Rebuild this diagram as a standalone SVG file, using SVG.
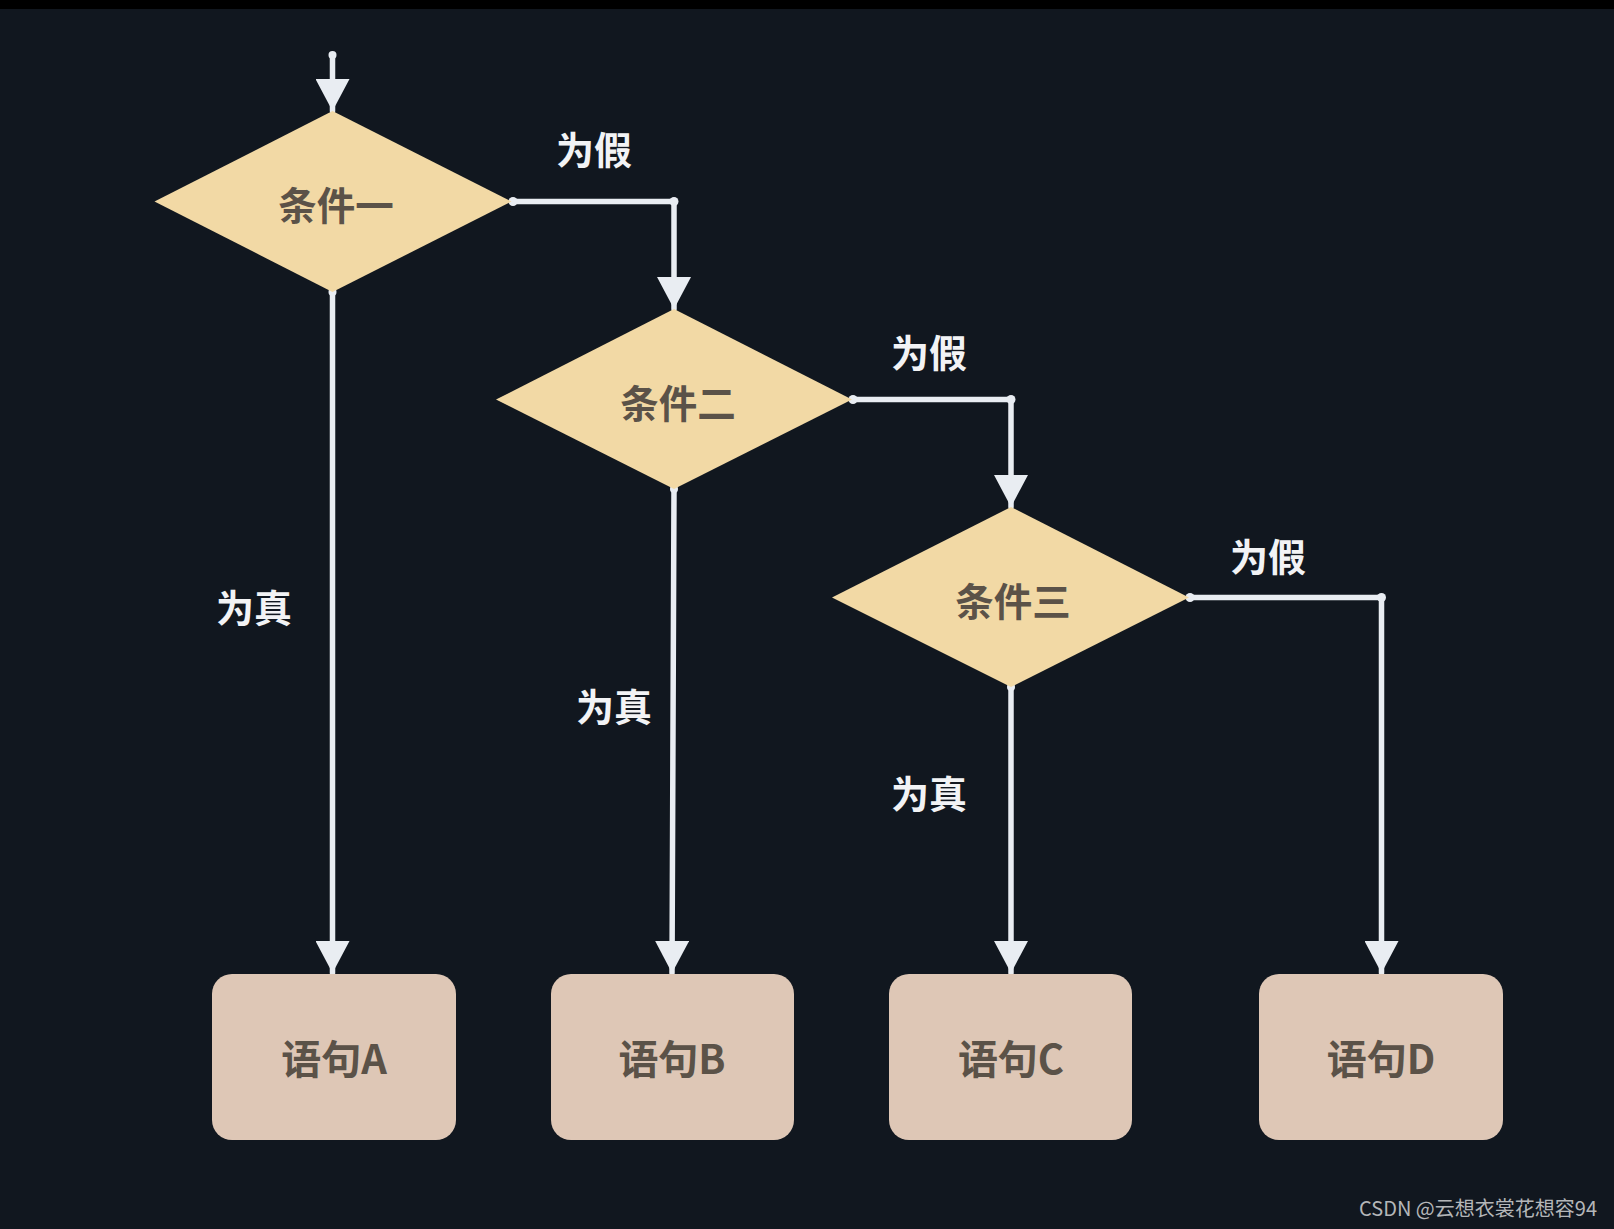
<svg xmlns="http://www.w3.org/2000/svg" width="1614" height="1229" viewBox="0 0 1614 1229">
<defs>
<style>
.bg{fill:#11171f}
.dia{fill:#f2d9a5}
.box{fill:#dec7b6}
.ntext{font-family:"Noto Sans CJK SC","Noto Sans",sans-serif;font-weight:bold;font-size:38.5px;fill:#5b5248;text-anchor:middle;dominant-baseline:central}
.btext{font-family:"Noto Sans CJK SC","Noto Sans",sans-serif;font-weight:bold;font-size:40px;fill:#5b5248;text-anchor:middle;dominant-baseline:central}
.lbl{font-family:"Noto Sans CJK SC","Noto Sans",sans-serif;font-weight:bold;font-size:38px;fill:#f2f3f5;text-anchor:middle;dominant-baseline:central}
.line{fill:none;stroke:#e9edf2;stroke-width:5.5;stroke-linecap:round;stroke-linejoin:round}
.dot{fill:#e9edf2}
.wm{font-family:"Noto Sans CJK SC","Liberation Sans",sans-serif;font-size:20px;fill:#b4b6b8;text-anchor:end}
</style>
<marker id="arr" viewBox="0 0 32 34" refX="32" refY="17" markerWidth="32" markerHeight="34" markerUnits="userSpaceOnUse" orient="auto">
<path d="M0,0 L32,17 L0,34 Z" fill="#e9edf2"/>
</marker>
</defs>
<rect class="bg" x="0" y="0" width="1614" height="1229"/>
<rect x="0" y="0" width="1614" height="9" fill="#000000"/>

<g id="connectors">
<path class="line" d="M332.5,55 L332.5,111" marker-end="url(#arr)"/>
<circle class="dot" cx="332.5" cy="55" r="4"/>
<path class="line" d="M513,201.5 L674,201.5 L674,309" marker-end="url(#arr)"/>
<circle class="dot" cx="513" cy="201.5" r="4.5"/><circle class="dot" cx="674" cy="201.5" r="4.5"/>
<path class="line" d="M853,399.5 L1011,399.5 L1011,507" marker-end="url(#arr)"/>
<circle class="dot" cx="853" cy="399.5" r="4.5"/><circle class="dot" cx="1011" cy="399.5" r="4.5"/>
<path class="line" d="M1190,597.5 L1381.5,597.5 L1381.5,973" marker-end="url(#arr)"/>
<circle class="dot" cx="1190" cy="597.5" r="4.5"/><circle class="dot" cx="1381.5" cy="597.5" r="4.5"/>
<path class="line" d="M332.5,292 L332.5,973" marker-end="url(#arr)"/>
<circle class="dot" cx="332.5" cy="292" r="4"/>
<path class="line" d="M674,489 L672,973" marker-end="url(#arr)"/>
<circle class="dot" cx="674" cy="489" r="4"/>
<path class="line" d="M1011,687 L1011,973" marker-end="url(#arr)"/>
<circle class="dot" cx="1011" cy="687" r="4"/>
<text class="lbl" x="594" y="147">为假</text>
<text class="lbl" x="929" y="350">为假</text>
<text class="lbl" x="1268" y="554">为假</text>
<text class="lbl" x="254" y="605">为真</text>
<text class="lbl" x="614" y="704">为真</text>
<text class="lbl" x="929" y="791">为真</text>
</g>

<g id="cond1">
<polygon class="dia" points="332.5,111 511.5,201.5 332.5,292 154.5,201.5"/>
<text class="ntext" x="336" y="203">条件一</text>
</g>
<g id="cond2">
<polygon class="dia" points="674,309 852,399.5 674,489 496,399.5"/>
<text class="ntext" x="678" y="401">条件二</text>
</g>
<g id="cond3">
<polygon class="dia" points="1011,507 1189,597.5 1011,687 832,597.5"/>
<text class="ntext" x="1013" y="599">条件三</text>
</g>

<g id="stmtA">
<rect class="box" x="212" y="974" width="244" height="166" rx="20"/>
<text class="btext" x="334" y="1057">语句A</text>
</g>
<g id="stmtB">
<rect class="box" x="551" y="974" width="243" height="166" rx="20"/>
<text class="btext" x="672" y="1057">语句B</text>
</g>
<g id="stmtC">
<rect class="box" x="889" y="974" width="243" height="166" rx="20"/>
<text class="btext" x="1011" y="1057">语句C</text>
</g>
<g id="stmtD">
<rect class="box" x="1259" y="974" width="244" height="166" rx="20"/>
<text class="btext" x="1381" y="1057">语句D</text>
</g>

<text class="wm" x="1597" y="1216">CSDN @云想衣裳花想容94</text>
</svg>
